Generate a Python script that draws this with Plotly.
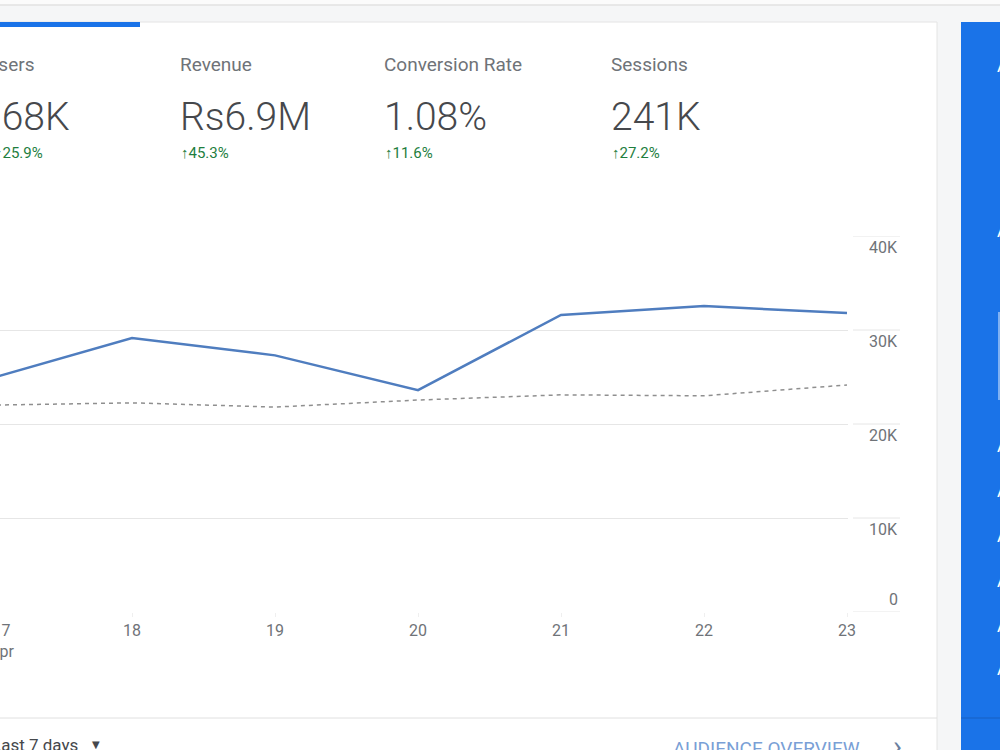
import plotly.graph_objects as go

# ---------------- data ----------------
days = [17, 18, 19, 20, 21, 22, 23]
day_labels = ["17<br>Apr", "18", "19", "20", "21", "22", "23"]
users_current = [24800, 29150, 27300, 23600, 31600, 32550, 31800]
users_previous = [22000, 22250, 21800, 22550, 23100, 23000, 24150]
y_tickvals = [0, 10000, 20000, 30000, 40000]
y_ticktext = ["0", "10K", "20K", "30K", "40K"]

metric_names = ["Users", "Revenue", "Conversion Rate", "Sessions"]
metric_values = ["168K", "Rs6.9M", "1.08%", "241K"]
metric_changes = ["25.9%", "45.3%", "11.6%", "27.2%"]

# ---------------- layout helpers (pixel -> paper) ----------------
W, H = 1000, 750
PL, PR, PT, PB = 0, 848, 236, 612   # plot area in pixels


def px(p):
    return (p - PL) / (PR - PL)


def py(p):
    return (PB - p) / (PB - PT)


FONT = "Roboto, 'Open Sans', Arial, sans-serif"
GRID = "#e6e6e6"
LABEL = "#6f7378"
DARK = "#46484c"
GREEN = "#1e7e3e"
BLUE = "#1a73e8"
LINE = "#4f7dbf"

fig = go.Figure()
fig.add_trace(go.Scatter(x=days, y=users_previous, mode="lines",
                         line=dict(color="#8f8f8f", width=1.5, dash="4px,4px"),
                         hoverinfo="skip", showlegend=False))
fig.add_trace(go.Scatter(x=days, y=users_current, mode="lines",
                         line=dict(color=LINE, width=2.5),
                         hoverinfo="skip", showlegend=False))

shapes = []
# top strip
shapes.append(dict(type="rect", xref="paper", yref="paper", x0=px(-5), x1=px(1005), y0=py(-5), y1=py(5),
                   fillcolor="#fbfbfb", line=dict(width=0), layer="below"))
shapes.append(dict(type="line", xref="paper", yref="paper", x0=px(-5), x1=px(1005), y0=py(5), y1=py(5),
                   line=dict(color="#e2e2e2", width=1.5), layer="below"))
# white card
shapes.append(dict(type="rect", xref="paper", yref="paper", x0=px(-10), x1=px(937), y0=py(22), y1=py(760),
                   fillcolor="white", line=dict(color="#e4e4e4", width=1), layer="below"))
# active tab indicator
shapes.append(dict(type="rect", xref="paper", yref="paper", x0=px(-5), x1=px(140), y0=py(22), y1=py(27),
                   fillcolor=BLUE, line=dict(width=0), layer="below"))
# blue side panel
shapes.append(dict(type="rect", xref="paper", yref="paper", x0=px(961), x1=px(1010), y0=py(22), y1=py(760),
                   fillcolor=BLUE, line=dict(width=0), layer="below"))
shapes.append(dict(type="line", xref="paper", yref="paper", x0=px(961), x1=px(1010), y0=py(718), y1=py(718),
                   line=dict(color="#1866cf", width=1.5), layer="below"))
shapes.append(dict(type="line", xref="paper", yref="paper", x0=px(999), x1=px(999), y0=py(312), y1=py(400),
                   line=dict(color="rgba(255,255,255,0.6)", width=1.5), layer="below"))
# footer separator
shapes.append(dict(type="line", xref="paper", yref="paper", x0=px(-10), x1=px(937), y0=py(718), y1=py(718),
                   line=dict(color="#e0e0e0", width=1), layer="below"))
# short gridline segments beside the tick labels
for v in y_tickvals:
    shapes.append(dict(type="line", xref="paper", yref="y", x0=px(853), x1=px(900), y0=v, y1=v,
                       line=dict(color=GRID, width=1), layer="below"))

annotations = []
left_x = [None, 178, 382, 609]
for i, (name, val, chg) in enumerate(zip(metric_names, metric_values, metric_changes)):
    if i == 0:
        xa, x_name, x_val, x_chg = "right", 36, 72, 45
    else:
        xa, x_name, x_val, x_chg = "left", left_x[i], left_x[i], left_x[i] + 1
    annotations.append(dict(text=name, x=px(x_name), y=py(64), xref="paper", yref="paper",
                            xanchor=xa, yanchor="middle", showarrow=False,
                            font=dict(family=FONT, size=19, color=LABEL)))
    annotations.append(dict(text=val, x=px(x_val), y=py(117), xref="paper", yref="paper",
                            xanchor=xa, yanchor="middle", showarrow=False,
                            font=dict(family=FONT, size=39, color=DARK, weight=300)))
    annotations.append(dict(text="<b>↑</b>" + chg, x=px(x_chg), y=py(153), xref="paper", yref="paper",
                            xanchor=xa, yanchor="middle", showarrow=False,
                            font=dict(family=FONT, size=15, color=GREEN)))

# y tick labels at right
for v, t in zip(y_tickvals, y_ticktext):
    annotations.append(dict(text=t, x=px(900), y=v, xref="paper", yref="y",
                            xanchor="right", yanchor="middle", showarrow=False,
                            yshift=(13 if v == 0 else -11),
                            font=dict(family=FONT, size=16, color=LABEL)))

# first x label (partially off-canvas)
annotations.append(dict(text=day_labels[0], x=px(1), y=py(619), xref="paper", yref="paper",
                        xanchor="center", yanchor="top", showarrow=False, align="center",
                        font=dict(family=FONT, size=16, color=LABEL)))

# footer
annotations.append(dict(text="Last 7 days", x=px(80), y=py(745), xref="paper", yref="paper",
                        xanchor="right", yanchor="middle", showarrow=False,
                        font=dict(family=FONT, size=17, color=DARK)))
annotations.append(dict(text="▼", x=px(96), y=py(744), xref="paper", yref="paper",
                        xanchor="center", yanchor="middle", showarrow=False,
                        font=dict(family="DejaVu Sans", size=10, color=DARK)))
annotations.append(dict(text="AUDIENCE OVERVIEW", x=px(671), y=py(748), xref="paper", yref="paper",
                        xanchor="left", yanchor="middle", showarrow=False,
                        font=dict(family=FONT, size=19, color="#7a9fd6")))
annotations.append(dict(text="›", x=px(897), y=py(745), xref="paper", yref="paper",
                        xanchor="center", yanchor="middle", showarrow=False,
                        font=dict(family=FONT, size=30, color="#6b7f9e")))

# clipped white glyphs on blue panel
for yy in [65, 230, 445, 490, 535, 580, 625, 668]:
    annotations.append(dict(text="A", x=px(995), y=py(yy), xref="paper", yref="paper",
                            xanchor="left", yanchor="middle", showarrow=False,
                            font=dict(family=FONT, size=18, color="white")))

x0 = days[0] + (days[1] - days[0]) * 11 / 143
x1 = days[-1] + (days[1] - days[0]) * 1 / 143

fig.update_layout(
    width=W, height=H,
    margin=dict(l=PL, r=W - PR, t=PT, b=H - PB, autoexpand=False),
    paper_bgcolor="#f5f6f7",
    plot_bgcolor="rgba(0,0,0,0)",
    shapes=shapes,
    annotations=annotations,
    xaxis=dict(range=[x0, x1], tickvals=days[1:], ticktext=day_labels[1:],
               showgrid=False, zeroline=False, showline=False,
               ticks="outside", ticklen=4, tickcolor="#efefef",
               tickfont=dict(family=FONT, size=16, color=LABEL), fixedrange=True),
    yaxis=dict(range=[0, 40000], tickvals=y_tickvals, showticklabels=False,
               showgrid=True, gridcolor=GRID, gridwidth=1, zeroline=False,
               showline=False, fixedrange=True),
    showlegend=False,
)

fig.write_html("out.html", config={"displayModeBar": False})
